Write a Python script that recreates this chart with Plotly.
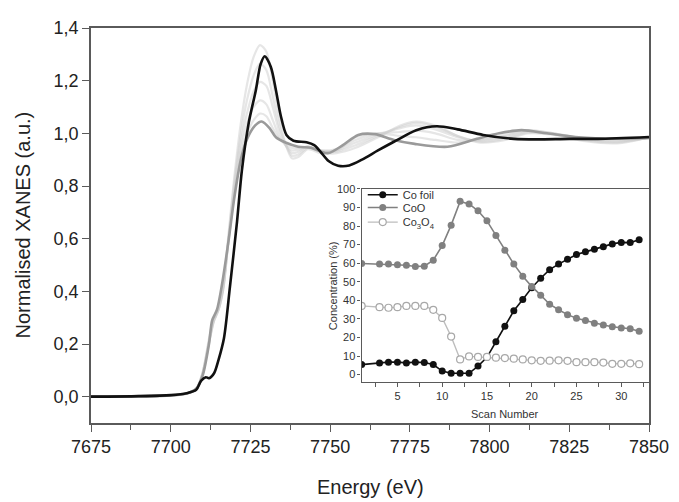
import plotly.graph_objects as go

# ---------------- main XANES spectra ----------------
E_black = [7675, 7690, 7700, 7705, 7708, 7709.5, 7711, 7712, 7713.6, 7715, 7716.7, 7718.6,
           7720.8, 7722.3, 7724.5, 7726.7, 7728.2, 7729.5, 7731.4, 7733, 7734.5, 7736.3,
           7738.5, 7742.6, 7745, 7747, 7749.5, 7752.5, 7756, 7760, 7765, 7770, 7777,
           7783.5, 7790, 7798, 7807.6, 7815, 7825, 7834, 7850]
v_black = [0.0, 0.002, 0.006, 0.013, 0.026, 0.06, 0.074, 0.07, 0.089, 0.14, 0.222, 0.42,
           0.665, 0.857, 1.042, 1.164, 1.263, 1.293, 1.252, 1.164, 1.068, 0.994,
           0.972, 0.966, 0.955, 0.93, 0.895, 0.877, 0.878, 0.9, 0.935, 0.968, 1.012,
           1.027, 1.015, 0.994, 0.979, 0.977, 0.979, 0.979, 0.986]

E_gray = [7675, 7700, 7705, 7708, 7710, 7712, 7713, 7714.5, 7716, 7718, 7720, 7722, 7724,
          7726.5, 7728.5, 7731, 7733, 7736, 7740, 7744, 7747, 7749.5, 7754, 7758.8, 7764,
          7770, 7776.5, 7786.8, 7796, 7803, 7810, 7818, 7828, 7840, 7850]
v_gray = [0.0, 0.005, 0.012, 0.03, 0.08, 0.2, 0.29, 0.33, 0.42, 0.58, 0.76, 0.9, 0.98,
          1.03, 1.045, 1.02, 0.985, 0.965, 0.949, 0.945, 0.931, 0.925, 0.955, 0.994, 0.997,
          0.975, 0.96, 0.949, 0.979, 1.0, 1.012, 1.0, 0.985, 0.98, 0.982]

E_light = [7675, 7700, 7705, 7708, 7710, 7712, 7713.5, 7715, 7716.5, 7718, 7720, 7722, 7724,
           7726, 7728, 7730, 7732, 7734, 7736, 7738, 7740, 7743, 7747, 7752, 7758, 7765,
           7772, 7777, 7783, 7790, 7797, 7805, 7812, 7820, 7830, 7840, 7850]
v_light1 = [0.0, 0.005, 0.012, 0.03, 0.09, 0.22, 0.30, 0.34, 0.42, 0.60, 0.84, 1.04, 1.19,
            1.29, 1.335, 1.31, 1.2, 1.06, 0.96, 0.905, 0.91, 0.94, 0.925, 0.925, 0.945, 0.985,
            1.03, 1.045, 1.03, 0.99, 0.965, 0.975, 1.0, 0.995, 0.97, 0.962, 0.985]
v_light2 = [0.0, 0.005, 0.012, 0.03, 0.09, 0.21, 0.29, 0.335, 0.42, 0.59, 0.82, 1.0, 1.13,
            1.22, 1.265, 1.24, 1.14, 1.03, 0.96, 0.915, 0.92, 0.945, 0.93, 0.93, 0.955, 0.99,
            1.025, 1.04, 1.025, 0.99, 0.968, 0.98, 1.003, 0.997, 0.973, 0.965, 0.985]
v_light3 = [0.0, 0.005, 0.012, 0.03, 0.09, 0.21, 0.29, 0.33, 0.41, 0.58, 0.8, 0.97, 1.08,
            1.16, 1.195, 1.18, 1.1, 1.01, 0.955, 0.925, 0.93, 0.95, 0.935, 0.935, 0.965, 0.995,
            1.02, 1.03, 1.015, 0.985, 0.972, 0.985, 1.006, 0.998, 0.976, 0.968, 0.984]
v_light4 = [0.0, 0.005, 0.012, 0.03, 0.085, 0.205, 0.285, 0.33, 0.41, 0.58, 0.78, 0.94, 1.04,
            1.1, 1.125, 1.11, 1.05, 0.99, 0.955, 0.935, 0.938, 0.95, 0.935, 0.94, 0.975, 1.0,
            1.005, 1.01, 1.0, 0.975, 0.975, 0.99, 1.01, 1.0, 0.978, 0.972, 0.983]
v_light5 = [0.0, 0.005, 0.012, 0.03, 0.085, 0.2, 0.285, 0.33, 0.42, 0.58, 0.77, 0.92, 1.0,
            1.05, 1.075, 1.065, 1.02, 0.98, 0.96, 0.945, 0.945, 0.95, 0.933, 0.935, 0.985, 1.0,
            0.99, 0.985, 0.975, 0.965, 0.978, 0.995, 1.012, 1.0, 0.98, 0.976, 0.982]

x_tickvals = [7675, 7700, 7725, 7750, 7775, 7800, 7825, 7850]
x_ticktext = ["7675", "7700", "7725", "7750", "7775", "7800", "7825", "7850"]
y_tickvals = [0.0, 0.2, 0.4, 0.6, 0.8, 1.0, 1.2, 1.4]
y_ticktext = ["0,0", "0,2", "0,4", "0,6", "0,8", "1,0", "1,2", "1,4"]

# ---------------- inset: concentrations ----------------
scans = [1, 3, 4, 5, 6, 7, 8, 9, 10, 11, 12, 13, 14, 15, 16, 17, 18, 19, 20, 21, 22, 23,
         24, 25, 26, 27, 28, 29, 30, 31, 32]
co_foil = [5.4, 6.3, 6.7, 6.7, 6.3, 6.7, 6.5, 5.4, 1.9, 0.7, 0.7, 0.7, 4.6, 9.3, 17.7, 26.1,
           34.4, 40.5, 46.8, 51.9, 56.5, 59.5, 62.1, 64.7, 66.1, 67.5, 68.8, 70.4, 71.2, 71.1, 72.6]
coo = [59.8, 59.5, 59.5, 59.1, 58.9, 58.2, 58.4, 61.6, 69.5, 80.5, 93.3, 91.9, 88.2, 82.8,
       74.9, 67.0, 59.5, 53.0, 47.5, 42.8, 37.9, 34.9, 32.3, 30.4, 29.1, 27.7, 26.7, 25.8,
       25.1, 24.7, 23.3]
co3o4 = [37.0, 36.3, 36.0, 36.3, 37.0, 37.0, 37.0, 34.9, 30.5, 20.5, 8.2, 9.8, 9.5, 9.5, 9.1,
         8.9, 8.6, 8.2, 7.7, 7.4, 7.5, 7.7, 7.4, 6.7, 6.7, 6.7, 6.5, 5.8, 5.8, 6.1, 5.6]

inset_xticks = [5, 10, 15, 20, 25, 30]
inset_yticks = [0, 10, 20, 30, 40, 50, 60, 70, 80, 90, 100]

FONT = "Liberation Sans, Arial, sans-serif"

fig = go.Figure()

light_sets = [v_light5, v_light4, v_light3, v_light2, v_light1]
for vals in light_sets:
    fig.add_trace(go.Scatter(x=E_light, y=vals, mode="lines",
                             line=dict(color="rgba(205,205,205,0.5)", width=2.2,
                                       shape="spline", smoothing=0.8),
                             showlegend=False, hoverinfo="skip"))
fig.add_trace(go.Scatter(x=E_gray, y=v_gray, mode="lines",
                         line=dict(color="#9a9a9a", width=2.6, shape="spline", smoothing=0.8),
                         showlegend=False))
fig.add_trace(go.Scatter(x=E_black, y=v_black, mode="lines",
                         line=dict(color="#111111", width=2.6, shape="spline", smoothing=0.8),
                         showlegend=False))

# inset traces
fig.add_trace(go.Scatter(x=scans, y=co_foil, mode="lines+markers", name="Co foil",
                         xaxis="x2", yaxis="y2", legend="legend",
                         line=dict(color="#111111", width=1.6),
                         marker=dict(color="#111111", size=7, symbol="circle")))
fig.add_trace(go.Scatter(x=scans, y=coo, mode="lines+markers", name="CoO",
                         xaxis="x2", yaxis="y2", legend="legend2",
                         line=dict(color="#808080", width=1.6),
                         marker=dict(color="#808080", size=7, symbol="circle")))
fig.add_trace(go.Scatter(x=scans, y=co3o4, mode="lines+markers",
                         name="Co<sub>3</sub>O<sub>4</sub>",
                         xaxis="x2", yaxis="y2", legend="legend3",
                         line=dict(color="#bdbdbd", width=1.4),
                         marker=dict(color="white", size=7, symbol="circle",
                                     line=dict(color="#a8a8a8", width=1.2))))

axis_col = "#5a5a5a"
leg_font = dict(size=11, family=FONT, color="#333333")


def leg(yv):
    return dict(x=0.487, y=yv, xref="paper", yref="paper", xanchor="left", yanchor="middle",
                bgcolor="rgba(0,0,0,0)", font=leg_font, itemwidth=30)


fig.update_layout(
    width=671, height=494,
    margin=dict(l=83, r=25, t=10, b=79),
    paper_bgcolor="white", plot_bgcolor="white",
    font=dict(family=FONT, color="#222222"),
    xaxis=dict(range=[7675, 7850], tickvals=x_tickvals, ticktext=x_ticktext,
               ticks="outside", ticklen=7, tickwidth=1.3, tickcolor=axis_col,
               minor=dict(dtick=12.5, tick0=7675, ticks="outside", ticklen=5,
                          tickwidth=1.3, tickcolor=axis_col),
               showline=True, linecolor=axis_col, linewidth=1.5, mirror=True,
               showgrid=False, zeroline=False,
               tickfont=dict(size=18, family=FONT, color="#222222")),
    yaxis=dict(range=[-0.1, 1.4], tickvals=y_tickvals, ticktext=y_ticktext,
               ticks="outside", ticklen=7, tickwidth=1.3, tickcolor=axis_col,
               showline=True, linecolor=axis_col, linewidth=1.5, mirror=True,
               showgrid=False, zeroline=False,
               tickfont=dict(size=18, family=FONT, color="#222222")),
    xaxis2=dict(domain=[0.485, 1.0], anchor="y2", range=[1, 33.1],
                tickvals=inset_xticks, ticks="outside", ticklen=4, tickwidth=1,
                tickcolor=axis_col,
                minor=dict(dtick=2.5, tick0=0, ticks="outside", ticklen=4,
                           tickwidth=1, tickcolor=axis_col),
                showline=True, linecolor=axis_col, linewidth=1.3, mirror=True,
                showgrid=False, zeroline=False,
                tickfont=dict(size=11, family=FONT, color="#333333")),
    yaxis2=dict(domain=[0.1037, 0.5926], anchor="x2", range=[-4, 100],
                tickvals=inset_yticks, ticks="outside", ticklen=3, tickwidth=1,
                tickcolor=axis_col,
                showline=True, linecolor=axis_col, linewidth=1.3, mirror=True,
                showgrid=False, zeroline=False,
                tickfont=dict(size=11, family=FONT, color="#333333")),
    legend=leg(0.5777),
    legend2=leg(0.5456),
    legend3=leg(0.5086),
    annotations=[
        dict(text="Energy (eV)", xref="paper", yref="paper", x=0.5, y=0, yshift=-64,
             showarrow=False, font=dict(size=20, family=FONT, color="#222222"),
             xanchor="center", yanchor="middle"),
        dict(text="Normalised XANES (a.u.)", xref="paper", yref="paper", x=0, y=0.5,
             xshift=-69, textangle=-90, showarrow=False,
             font=dict(size=20, family=FONT, color="#222222"),
             xanchor="center", yanchor="middle"),
        dict(text="Scan Number", xref="paper", yref="paper", x=0.7425, y=0.1037,
             yshift=-32, showarrow=False, font=dict(size=11, family=FONT, color="#333333"),
             xanchor="center", yanchor="middle"),
        dict(text="Concentration (%)", xref="paper", yref="paper", x=0.485, y=0.348,
             xshift=-29, textangle=-90, showarrow=False,
             font=dict(size=11, family=FONT, color="#333333"),
             xanchor="center", yanchor="middle"),
    ],
)

# white background for inset
fig.add_shape(type="rect", xref="paper", yref="paper", x0=0.485, x1=1.0, y0=0.1037, y1=0.5926,
              fillcolor="white", line=dict(width=0), layer="below")

fig.write_html("out.html")
